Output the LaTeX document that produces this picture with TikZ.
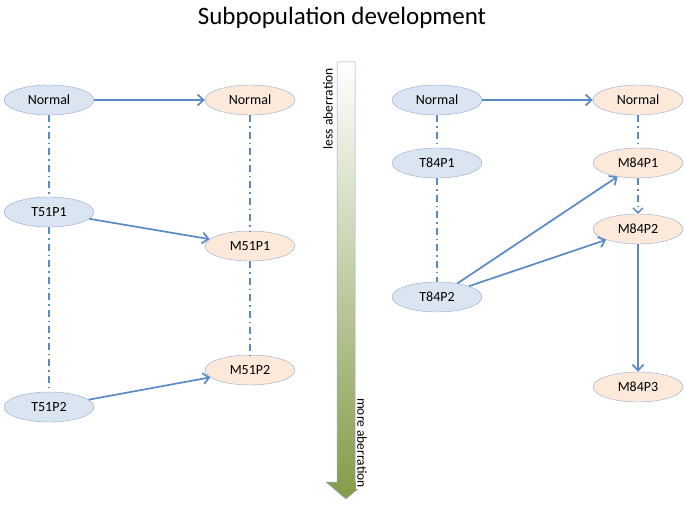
\documentclass[tikz,border=0pt]{standalone}
\usepackage{fontspec}
\setmainfont{Carlito}
\usetikzlibrary{arrows.meta,shapes.geometric}
\definecolor{tfill}{HTML}{DBE5F1}
\definecolor{mfill}{HTML}{FCE9DA}
\definecolor{rim}{HTML}{8FA9CC}
\definecolor{link}{HTML}{5A8AC6}
\definecolor{olive}{HTML}{839B48}
\begin{document}
\begin{tikzpicture}[x=1pt,y=-1pt]
	\tikzstyle{pop} = [draw=rim, ellipse, minimum width=90pt, minimum height=30pt, inner sep=0pt, font=\fontsize{14}{16}\selectfont];
	\tikzstyle{tum} = [pop, fill=tfill];
	\tikzstyle{met} = [pop, fill=mfill];
	\tikzstyle{spread} = [draw=link, line width=1.7pt, -{Straight Barb[length=6pt,width=11pt]}];
	\tikzstyle{kin} = [draw=link, line width=1.4pt, dash pattern=on 7pt off 4pt on 1.5pt off 4pt];
	\tikzstyle{scalelabel} = [font=\fontsize{13.5}{15}\selectfont, inner sep=1pt];
	\useasboundingbox (0,0) rectangle (685,511);

	\node (title) at (342,18) {\fontsize{25}{30}\selectfont Subpopulation development};

	% case 51
	\node[tum] (N51) at (49,100) {Normal};
	\node[met] (NM51) at (250,100) {Normal};
	\node[tum] (T51P1) at (49,212) {T51P1};
	\node[met] (M51P1) at (250,246) {M51P1};
	\node[met] (M51P2) at (250,370) {M51P2};
	\node[tum] (T51P2) at (49,407) {T51P2};

	\draw[spread] (N51) -- (NM51);
	\draw[kin] (N51) -- (T51P1);
	\draw[kin] (T51P1) -- (T51P2);
	\draw[kin] (NM51) -- (M51P1);
	\draw[kin] (M51P1) -- (M51P2);
	\draw[spread] (T51P1) -- (M51P1);
	\draw[spread] (T51P2) -- (M51P2);

	% aberration scale
	\shade[top color=white, bottom color=olive, draw=rim, line width=0.5pt]
		(337,62) -- (355,62) -- (355,482) -- (366,482) -- (346,499) -- (326,482) -- (337,482) -- cycle;
	\node[scalelabel, rotate=90, anchor=east] (lessab) at (328,67) {less aberration};
	\node[scalelabel, rotate=-90, anchor=west, fill=white] (moreab) at (362,397) {more aberration};

	% case 84
	\node[tum] (N84) at (437,100) {Normal};
	\node[met] (NM84) at (638,100) {Normal};
	\node[tum] (T84P1) at (437,163) {T84P1};
	\node[met] (M84P1) at (638,163) {M84P1};
	\node[met] (M84P2) at (638,229) {M84P2};
	\node[tum] (T84P2) at (437,297) {T84P2};
	\node[met] (M84P3) at (638,387) {M84P3};

	\draw[spread] (N84) -- (NM84);
	\draw[kin] (N84) -- (T84P1);
	\draw[kin] (T84P1) -- (T84P2);
	\draw[kin] (NM84) -- (M84P1);
	\draw[kin, -{Straight Barb[length=5pt,width=10pt]}] (M84P1) -- (M84P2);
	\draw[spread] (T84P2) -- (M84P1);
	\draw[spread] (T84P2) -- (M84P2);
	\draw[spread] (M84P2) -- (M84P3);
\end{tikzpicture}
\end{document}
